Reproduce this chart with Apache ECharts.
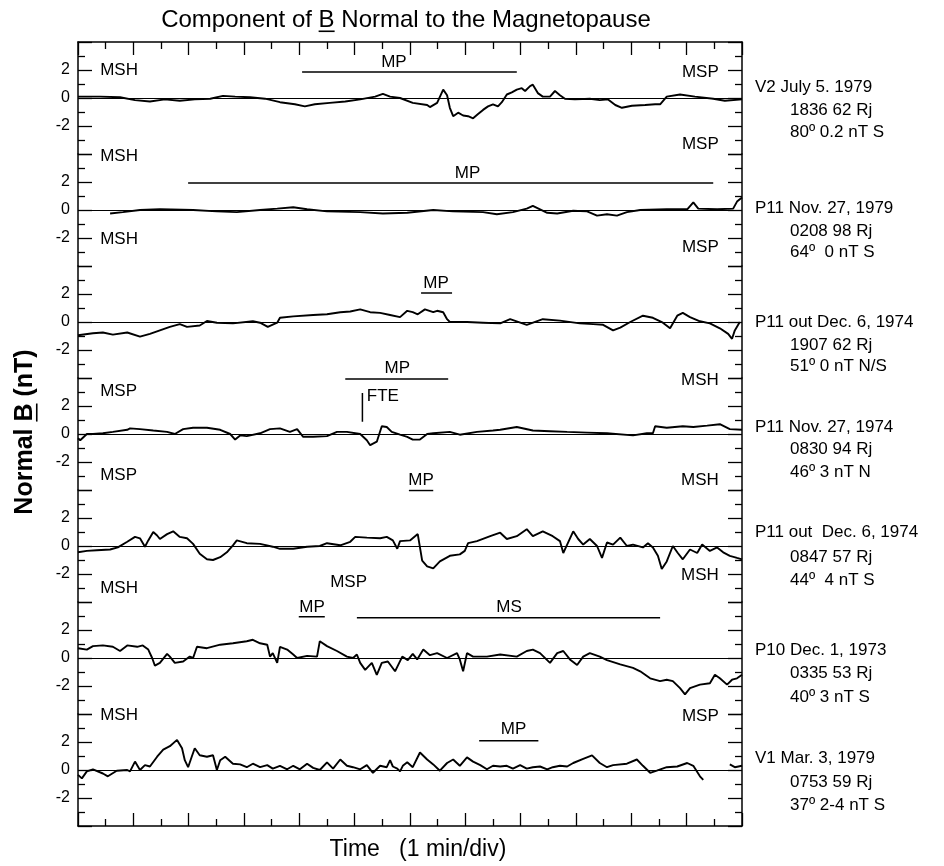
<!DOCTYPE html>
<html>
<head>
<meta charset="utf-8">
<script src="https://cdn.jsdelivr.net/npm/echarts@6/dist/echarts.min.js"></script>
<style>
  html, body { margin: 0; padding: 0; background: #fff; }
  #chart { width: 944px; height: 866px; }
</style>
</head>
<body>
<div id="chart"></div>
<script>
// Normal component of B (nT) vs time (min), one trace per crossing, top to bottom.
const v2Jul1979 = [[0,0.1],[0.40,0.1],[0.76,0.05],[1.03,-0.15],[1.30,-0.25],[1.57,-0.1],[1.84,-0.2],[2.11,-0.1],[2.39,-0.05],[2.62,0.15],[2.84,0.1],[3.11,0.05],[3.38,-0.05],[3.65,-0.3],[3.92,-0.45],[4.10,-0.6],[4.28,-0.45],[4.55,-0.35],[4.83,-0.25],[5.10,-0.1],[5.37,0.1],[5.51,0.3],[5.64,0.1],[5.82,0],[6.05,-0.35],[6.31,-0.5],[6.36,-0.65],[6.49,-0.35],[6.60,0.6],[6.67,0.2],[6.72,-0.7],[6.78,-1.3],[6.87,-1.05],[6.96,-1.25],[7.05,-1.3],[7.14,-1.45],[7.23,-1.15],[7.32,-0.85],[7.41,-0.6],[7.50,-0.45],[7.59,-0.6],[7.66,-0.3],[7.75,0.25],[7.84,0.4],[7.93,0.6],[8.02,0.7],[8.08,0.5],[8.17,0.85],[8.22,0.95],[8.31,0.35],[8.40,0.1],[8.53,0.1],[8.62,0.5],[8.71,0.2],[8.80,-0.05],[8.98,-0.1],[9.25,-0.05],[9.43,-0.15],[9.58,-0.1],[9.71,-0.5],[9.83,-0.7],[10.01,-0.55],[10.25,-0.5],[10.43,-0.45],[10.52,-0.45],[10.64,0.1],[10.88,0.25],[11.15,0.1],[11.48,-0.05],[11.69,-0.2],[12,-0.1]];
const p11Nov1979 = [[0.58,-0.25],[0.81,-0.15],[1.12,0],[1.48,0.05],[2.08,0],[2.51,-0.1],[2.87,-0.15],[3.29,0],[3.60,0.1],[3.89,0.2],[4.14,0.05],[4.50,-0.1],[5.10,-0.15],[5.51,-0.25],[5.95,-0.2],[6.42,0],[6.78,-0.1],[7.32,-0.15],[7.57,-0.3],[7.86,-0.15],[8.11,0.1],[8.22,0.3],[8.35,0.05],[8.48,-0.2],[8.66,-0.25],[8.95,-0.05],[9.20,-0.1],[9.38,-0.4],[9.56,-0.3],[9.74,-0.4],[9.92,-0.15],[10.16,0],[10.64,0.05],[11.01,0.05],[11.12,0.55],[11.21,0.1],[11.55,0.05],[11.84,0.1],[11.91,0.6],[12,0.9]];
const p11Dec1974a = [[0,-0.95],[0.27,-0.8],[0.45,-0.75],[0.63,-0.9],[0.89,-0.75],[1.12,-1.05],[1.30,-0.85],[1.48,-0.6],[1.66,-0.35],[1.84,-0.15],[1.97,-0.35],[2.20,-0.25],[2.33,0.07],[2.51,-0.05],[2.80,-0.1],[3.16,0.05],[3.29,-0.05],[3.43,-0.35],[3.60,-0.05],[3.65,0.3],[3.89,0.4],[4.25,0.5],[4.50,0.55],[4.74,0.7],[4.92,0.75],[5.10,0.9],[5.28,0.7],[5.46,0.65],[5.64,0.5],[5.82,0.35],[5.95,0.8],[6.05,0.7],[6.14,0.55],[6.27,0.9],[6.42,0.7],[6.49,0.8],[6.60,0.7],[6.67,0.2],[6.72,0],[7.03,0],[7.32,-0.05],[7.63,-0.1],[7.81,0.2],[8.11,-0.2],[8.40,0.2],[8.71,0.1],[9.07,-0.1],[9.31,-0.15],[9.49,-0.2],[9.67,-0.6],[9.80,-0.4],[9.98,0],[10.21,0.45],[10.39,0.3],[10.57,-0.05],[10.70,-0.45],[10.83,0.45],[10.93,0.65],[11.06,0.35],[11.24,0.05],[11.42,-0.1],[11.60,-0.45],[11.75,-0.85],[11.82,-1.2],[11.87,-0.6],[11.96,0]];
const p11Nov1974 = [[0,-0.3],[0.04,-0.45],[0.16,0],[0.27,0],[0.45,0.05],[0.63,0.15],[0.89,0.3],[0.94,0.4],[1.12,0.35],[1.36,0.25],[1.61,0.15],[1.75,0],[1.90,0.35],[2.08,0.45],[2.33,0.45],[2.57,0.3],[2.75,0],[2.84,-0.4],[2.93,-0.1],[3.05,-0.15],[3.29,0.05],[3.47,0.35],[3.65,0.4],[3.83,0.15],[3.96,0.35],[4.07,-0.2],[4.25,-0.2],[4.50,-0.15],[4.68,0.15],[4.86,0.15],[5.10,0],[5.22,-0.45],[5.28,-0.8],[5.40,-0.55],[5.49,0.55],[5.58,0.5],[5.67,0.15],[5.82,-0.05],[5.95,-0.2],[6.05,-0.4],[6.18,-0.4],[6.31,0],[6.42,0.05],[6.72,0.15],[6.90,-0.05],[7.21,0.15],[7.50,0.25],[7.63,0.3],[7.93,0.5],[8.22,0.25],[8.53,0.2],[8.84,0.15],[9.20,0.1],[9.56,0.05],[10.03,-0.1],[10.28,0.05],[10.39,0.05],[10.43,0.55],[10.64,0.45],[10.93,0.55],[11.12,0.5],[11.37,0.6],[11.60,0.7],[11.78,0.35],[12,0.3]];
const p11Dec1974b = [[0,-0.45],[0.16,-0.35],[0.34,-0.3],[0.58,-0.25],[0.72,-0.1],[0.89,0.3],[1.03,0.65],[1.12,0.55],[1.21,-0.05],[1.27,0.4],[1.36,1.0],[1.43,0.75],[1.48,0.5],[1.61,0.85],[1.72,1.05],[1.84,0.65],[1.97,0.55],[2.08,0.15],[2.20,-0.55],[2.33,-0.95],[2.44,-1.0],[2.57,-0.8],[2.69,-0.45],[2.80,0.05],[2.87,0.4],[3.05,0.2],[3.29,0.15],[3.52,-0.05],[3.65,-0.2],[3.89,-0.2],[4.14,-0.05],[4.37,0],[4.50,0.2],[4.74,0.05],[4.92,0.3],[5.01,0.65],[5.22,0.6],[5.46,0.55],[5.58,0.65],[5.69,0.4],[5.77,-0.2],[5.82,0.35],[6.00,0.4],[6.14,0.85],[6.22,-1.05],[6.31,-1.45],[6.42,-1.6],[6.54,-1.1],[6.72,-0.7],[6.90,-0.6],[6.99,-0.35],[7.05,0.2],[7.21,0.35],[7.45,0.7],[7.63,0.95],[7.75,0.5],[7.93,0.7],[8.11,1.2],[8.22,0.7],[8.40,1.05],[8.58,0.7],[8.71,0.35],[8.77,-0.5],[8.84,0.1],[8.95,1.05],[9.04,0.5],[9.13,0.1],[9.25,0.5],[9.38,0],[9.47,-0.85],[9.56,0.25],[9.67,0.1],[9.80,0.6],[9.92,0],[10.03,0.1],[10.21,-0.1],[10.30,0.2],[10.39,-0.1],[10.48,-0.7],[10.55,-1.65],[10.64,-1.1],[10.75,0],[10.84,-0.5],[10.93,-0.95],[11.06,-0.25],[11.19,-0.5],[11.28,0.1],[11.42,-0.35],[11.55,-0.1],[11.66,-0.45],[11.78,-0.7],[11.91,-0.85],[12,-0.95]];
const p10Dec1973 = [[0,0.7],[0.16,0.6],[0.27,0.85],[0.45,0.9],[0.63,0.8],[0.76,0.5],[0.89,0.9],[1.07,0.8],[1.17,0.9],[1.27,0.6],[1.34,0],[1.39,-0.55],[1.48,-0.35],[1.61,0.3],[1.66,0.1],[1.75,-0.35],[1.90,-0.25],[2.02,0.1],[2.08,0],[2.15,0.8],[2.33,0.7],[2.57,0.95],[2.80,1.05],[3.05,1.2],[3.16,1.3],[3.29,1.05],[3.42,0.95],[3.47,0.1],[3.52,0.35],[3.60,-0.35],[3.65,0.8],[3.78,0.6],[3.89,0.25],[3.96,0],[4.14,0.15],[4.32,0.1],[4.37,1.2],[4.50,0.85],[4.68,0.5],[4.86,0.1],[4.97,0],[5.04,0.25],[5.10,-0.35],[5.19,-0.85],[5.31,-0.35],[5.40,-1.2],[5.49,-0.35],[5.60,-0.25],[5.73,-0.95],[5.86,0.1],[5.96,-0.15],[6.05,0.3],[6.13,-0.1],[6.24,0.6],[6.36,0.2],[6.49,0.35],[6.67,0],[6.85,0.35],[6.90,-0.1],[6.96,-0.95],[7.03,0.35],[7.14,0.1],[7.39,0.1],[7.63,0.25],[7.93,0.1],[8.11,0.5],[8.22,0.6],[8.35,0.35],[8.53,-0.35],[8.66,0.35],[8.77,0.5],[8.89,-0.1],[9.02,-0.5],[9.13,0.1],[9.25,0.35],[9.43,0.1],[9.56,-0.15],[9.80,-0.45],[10.03,-0.7],[10.16,-0.95],[10.34,-1.45],[10.52,-1.65],[10.64,-1.55],[10.75,-1.65],[10.88,-2.15],[10.97,-2.6],[11.06,-2.15],[11.24,-1.9],[11.42,-1.8],[11.51,-1.2],[11.60,-1.45],[11.73,-1.9],[11.82,-1.55],[11.91,-1.45],[12,-1.2]];
const v1Mar1979 = [[0,-0.35],[0.07,-0.6],[0.16,-0.1],[0.27,0.05],[0.45,-0.25],[0.54,-0.45],[0.70,-0.05],[0.89,0],[0.94,-0.1],[1.03,0.6],[1.12,0],[1.21,0.35],[1.30,0.25],[1.43,0.95],[1.54,1.45],[1.66,1.7],[1.79,2.15],[1.88,1.55],[1.93,0.7],[1.99,0.2],[2.06,1.0],[2.11,1.55],[2.20,1.05],[2.33,0.95],[2.44,1.05],[2.51,0],[2.57,0.7],[2.66,0.95],[2.80,0.45],[2.93,0.4],[3.05,0.2],[3.16,0.45],[3.29,0.2],[3.42,0.35],[3.52,0.1],[3.65,0.3],[3.78,0.05],[3.89,0.3],[4.01,0.05],[4.14,0.45],[4.25,0.15],[4.37,0],[4.50,0.55],[4.61,0.1],[4.74,0.75],[4.86,0.3],[4.97,0.2],[5.10,0.05],[5.22,0.35],[5.33,-0.2],[5.46,0.3],[5.58,0.2],[5.64,0.7],[5.69,0.25],[5.77,0.1],[5.82,-0.1],[5.87,0.3],[5.95,0.55],[6.05,0.2],[6.18,1.25],[6.31,0.75],[6.42,0.4],[6.54,-0.05],[6.67,0.5],[6.78,0.75],[6.90,0.3],[7.03,0.9],[7.14,0.6],[7.27,0.35],[7.39,0.05],[7.50,0.3],[7.63,0.25],[7.75,0.3],[7.86,0.1],[7.99,0.35],[8.11,0.1],[8.22,0.2],[8.35,0.25],[8.48,0.05],[8.58,0.2],[8.71,0.3],[8.84,0.25],[8.95,0.5],[9.13,0.8],[9.29,1.05],[9.43,0.5],[9.56,0.2],[9.67,0.35],[9.92,0.45],[10.10,0.75],[10.21,0.3],[10.34,-0.2],[10.46,-0.05],[10.64,0.2],[10.83,0.25],[11.01,0.5],[11.12,0.3],[11.24,-0.45],[11.30,-0.7],null,[11.78,0.4],[11.87,0.2],[12,0.3]];

const traces = [v2Jul1979, p11Nov1979, p11Dec1974a, p11Nov1974, p11Dec1974b, p10Dec1973, v1Mar1979];

// Spacecraft, date, time, distance, angle, field for each panel.
const infoLines = [
  ['V2 July 5. 1979', '1836 62 Rj', '80º 0.2 nT S'],
  ['P11 Nov. 27, 1979', '0208 98 Rj', '64º  0 nT S'],
  ['P11 out Dec. 6, 1974', '1907 62 Rj', '51º 0 nT N/S'],
  ['P11 Nov. 27, 1974', '0830 94 Rj', '46º 3 nT N'],
  ['P11 out  Dec. 6, 1974', '0847 57 Rj', '44º  4 nT S'],
  ['P10 Dec. 1, 1973', '0335 53 Rj', '40º 3 nT S'],
  ['V1 Mar. 3, 1979', '0753 59 Rj', '37º 2-4 nT S']
];

// Interval bars: [panel, start min, end min, level nT]
const intervalBars = [
  [0, 4.05, 7.93, 1.85], [1, 1.99, 11.48, 1.93], [2, 6.20, 6.76, 2.07],
  [3, 4.83, 6.69, 3.93], [4, 5.98, 6.42, 3.97], [5, 3.99, 4.46, 2.95],
  [5, 5.04, 10.52, 2.88], [6, 7.25, 8.32, 2.09]
];
// FTE marker: [panel, min, from nT, to nT]
const fteMarker = [3, 5.14, 0.88, 2.93];

// Region labels: [panel, min, nT, text, anchor]
const regionLabels = [
  [0, 0.40, 2.0, 'MSH', 'start'], [0, 5.71, 2.57, 'MP', 'mid'], [0, 11.58, 1.85, 'MSP', 'end'], [0, 11.58, -3.3, 'MSP', 'end'],
  [1, 0.40, 3.8, 'MSH', 'start'], [1, 7.04, 2.64, 'MP', 'mid'], [1, 0.40, -2.1, 'MSH', 'start'], [1, 11.58, -2.64, 'MSP', 'end'],
  [2, 6.47, 2.79, 'MP', 'mid'], [2, 5.77, -3.29, 'MP', 'mid'],
  [3, 0.40, 3.02, 'MSP', 'start'], [3, 5.22, 2.66, 'FTE', 'start'], [3, 11.58, 3.86, 'MSH', 'end'],
  [3, 0.40, -2.93, 'MSP', 'start'], [3, 11.58, -3.29, 'MSH', 'end'], [3, 6.20, -3.29, 'MP', 'mid'],
  [4, 0.40, -3.02, 'MSH', 'start'], [4, 11.58, -2.07, 'MSH', 'end'], [4, 4.89, -2.62, 'MSP', 'mid'],
  [5, 4.23, 3.59, 'MP', 'mid'], [5, 7.79, 3.59, 'MS', 'mid'],
  [6, 0.40, 3.93, 'MSH', 'start'], [6, 11.58, 3.86, 'MSP', 'end'], [6, 7.87, 2.91, 'MP', 'mid']
];

const yTickValues = [-2, 0, 2];

const FONT = '"Liberation Sans", Arial, Helvetica, sans-serif';
const LEFT = 78, WIDTH = 664, TOP = 42, PANEL_H = 112;
const INFO_Y = [[87, 110, 132], [208, 231, 252], [322, 345, 366], [427, 449, 472],
                [532, 557, 580], [650, 673, 697], [758, 782, 805]];

const measure = (() => {
  const ctx = document.createElement('canvas').getContext('2d');
  return (str, font) => { ctx.font = font; return ctx.measureText(str).width; };
})();

const ink = { color: '#000', width: 1.5 };
const grids = [], xAxes = [], yAxes = [], series = [];

traces.forEach((trace, i) => {
  const edge = i === 0 || i === traces.length - 1;
  grids.push({ left: LEFT, top: TOP + i * PANEL_H, width: WIDTH, height: PANEL_H });
  xAxes.push({
    type: 'value', gridIndex: i, min: 0, max: 12, interval: 1,
    position: i === 0 ? 'top' : 'bottom', show: edge,
    axisLine: { show: true, onZero: false, lineStyle: ink },
    axisTick: { show: true, inside: true, length: 13, lineStyle: { color: '#000', width: 1.3 } },
    minorTick: { show: true, splitNumber: 2, length: 7, lineStyle: { color: '#000', width: 1.3 } },
    axisLabel: { show: false }, splitLine: { show: false }
  });
  ['left', 'right'].forEach(side => {
    yAxes.push({
      type: 'value', gridIndex: i, min: -4, max: 4, interval: 2, position: side,
      axisLine: { show: true, onZero: false, lineStyle: ink },
      axisTick: { show: true, inside: true, length: 14, lineStyle: { color: '#000', width: 1.3 } },
      minorTick: { show: true, splitNumber: 2, length: 7, lineStyle: { color: '#000', width: 1.3 } },
      axisLabel: {
        show: side === 'left', color: '#000', fontSize: 16, fontFamily: FONT, margin: 8,
        formatter: v => yTickValues.includes(v) ? String(v) : ''
      },
      splitLine: { show: false }
    });
  });

  // split a trace at null gaps
  const pieces = [[]];
  trace.forEach(p => { if (p === null) pieces.push([]); else pieces[pieces.length - 1].push(p); });
  pieces.forEach((piece, k) => {
    series.push({
      type: 'line', xAxisIndex: i, yAxisIndex: 2 * i, data: piece,
      symbol: 'none', lineStyle: { color: '#000', width: 1.9 }, silent: true,
      markLine: k === 0 ? {
        silent: true, symbol: ['none', 'none'], label: { show: false },
        lineStyle: { color: '#000', width: 1, type: 'solid' }, emphasis: { disabled: true },
        data: [{ yAxis: 0 }]
      } : undefined
    });
  });
});

intervalBars.forEach(([p, t1, t2, v]) => {
  series.push({
    type: 'line', xAxisIndex: p, yAxisIndex: 2 * p, data: [[t1, v], [t2, v]],
    symbol: 'none', lineStyle: { color: '#000', width: 1.5 }, silent: true
  });
});
series.push({
  type: 'line', xAxisIndex: fteMarker[0], yAxisIndex: 2 * fteMarker[0],
  data: [[fteMarker[1], fteMarker[2]], [fteMarker[1], fteMarker[3]]],
  symbol: 'none', lineStyle: { color: '#000', width: 1.5 }, silent: true
});

const anchorPos = { start: 'right', end: 'left', mid: 'inside' };
traces.forEach((_, i) => {
  const items = regionLabels.filter(r => r[0] === i).map(r => ({
    value: [r[1], r[2]], name: r[3], label: { position: anchorPos[r[4]] }
  }));
  if (!items.length) return;
  series.push({
    type: 'scatter', xAxisIndex: i, yAxisIndex: 2 * i, data: items, symbolSize: 0,
    silent: true, clip: false, itemStyle: { opacity: 1, color: '#000' },
    label: { show: true, formatter: p => p.name, distance: 0, color: '#000', opacity: 1,
             textBorderWidth: 0, fontSize: 17, fontFamily: FONT }
  });
});

// Titles with underlined B
function underlinedText(x, y, parts, font, rotation) {
  const full = parts.join('');
  const w = measure(full, font);
  const pre = measure(parts[0], font);
  const bw = measure(parts[1], font);
  const size = parseFloat(font.match(/(\d+)px/)[1]);
  return {
    type: 'group', x, y, rotation: rotation || 0, children: [
      { type: 'text', style: { text: full, font, fill: '#000', align: 'center', verticalAlign: 'middle' } },
      { type: 'line', shape: { x1: -w / 2 + pre, y1: size * 0.47, x2: -w / 2 + pre + bw, y2: size * 0.47 },
        style: { stroke: '#000', lineWidth: 1.6 } }
    ]
  };
}

const graphics = [
  underlinedText(406, 20, ['Component of ', 'B', ' Normal to the Magnetopause'], `24px ${FONT}`),
  underlinedText(25, 432, ['Normal ', 'B', ' (nT)'], `bold 25px ${FONT}`, Math.PI / 2),
  { type: 'text', x: 418, y: 850, style: { text: 'Time   (1 min/div)', font: `23px ${FONT}`, fill: '#000', align: 'center', verticalAlign: 'middle' } }
];
infoLines.forEach((lines, i) => {
  lines.forEach((line, k) => {
    graphics.push({
      type: 'text', x: k === 0 ? 755 : 790, y: INFO_Y[i][k],
      style: { text: line, font: `17px ${FONT}`, fill: '#000', align: 'left', verticalAlign: 'middle' }
    });
  });
});

const chart = echarts.init(document.getElementById('chart'), null, { renderer: 'canvas' });
chart.setOption({
  animation: false,
  backgroundColor: '#fff',
  grid: grids, xAxis: xAxes, yAxis: yAxes, series,
  graphic: graphics
});
</script>
</body>
</html>
